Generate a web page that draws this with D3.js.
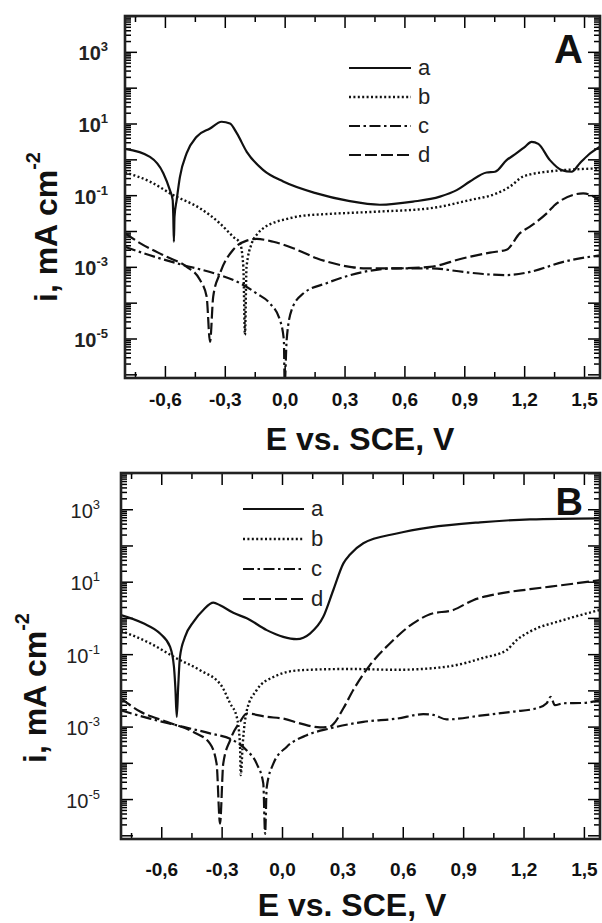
<!DOCTYPE html>
<html>
<head>
<meta charset="utf-8">
<script src="https://cdn.jsdelivr.net/npm/d3@7"></script>
<style>
  body { margin: 0; background: #fff; }
  svg { display: block; font-family: "Liberation Sans", Arial, Helvetica, sans-serif; }
</style>
</head>
<body>
<svg id="chart" width="602" height="923"></svg>
<script>
// curve names + x ticks
const seriesNames = ["a", "b", "c", "d"];
const xTickValues = [-0.6, -0.3, 0, 0.3, 0.6, 0.9, 1.2, 1.5];
const xTickLabels = ["-0,6", "-0,3", "0,0", "0,3", "0,6", "0,9", "1,2", "1,5"];
const xMinorValues = [-0.75, -0.45, -0.15, 0.15, 0.45, 0.75, 1.05, 1.35];
const yDecades = [1e-6, 1e-5, 1e-4, 1e-3, 1e-2, 1e-1, 1, 1e1, 1e2, 1e3, 1e4];
const yLabelExps = [-5, -3, -1, 1, 3];
const xDomain = [-0.8, 1.58];
const yDomain = [7.9e-7, 1e4];

// panel A, [E (V), i (mA cm-2)]
const A_a = [[-0.8,1.95],[-0.675,1.17],[-0.608,0.41],[-0.575,0.138],[-0.561,0.073],[-0.558,0.025],[-0.555,0.005],
  [-0.552,0.025],[-0.541,0.074],[-0.525,0.32],[-0.491,1.48],[-0.441,4.27],[-0.374,7.24],[-0.316,11.2],[-0.274,10.0],
  [-0.24,5.37],[-0.19,1.62],[-0.107,0.5],[-0.007,0.24],[0.16,0.112],[0.32,0.069],[0.477,0.054],[0.643,0.066],
  [0.778,0.091],[0.862,0.138],[0.928,0.24],[1.012,0.43],[1.054,0.45],[1.112,0.95],[1.162,1.48],[1.204,2.24],
  [1.237,3.09],[1.271,2.69],[1.329,0.95],[1.388,0.5],[1.438,0.45],[1.479,0.78],[1.521,1.32],[1.58,2.24]];
const A_b = [[-0.8,0.43],[-0.675,0.24],[-0.558,0.1],[-0.424,0.043],[-0.324,0.0162],[-0.258,0.0069],[-0.224,0.0046],
  [-0.207,0.001],[-0.199,1.26e-5],[-0.191,0.001],[-0.165,0.0045],[-0.135,0.0085],[-0.1,0.0128],[-0.05,0.0175],
  [0.0,0.021],[0.077,0.026],[0.227,0.03],[0.477,0.035],[0.728,0.043],[0.928,0.073],[1.062,0.112],[1.129,0.174],
  [1.195,0.33],[1.313,0.45],[1.58,0.56]];
const A_c = [[-0.8,3.6e-3],[-0.675,2.1e-3],[-0.508,1.12e-3],[-0.341,6.3e-4],[-0.224,3.5e-4],[-0.14,1.8e-4],
  [-0.074,9.5e-5],[-0.024,3.3e-5],[-0.004,9.1e-6],[0,5e-7],[0.01,9.1e-6],[0.035,6.3e-5],[0.093,1.8e-4],
  [0.21,3.5e-4],[0.394,7.2e-4],[0.561,9.1e-4],[0.728,9.1e-4],[0.895,7.2e-4],[0.995,6.3e-4],[1.112,5.9e-4],
  [1.229,7.2e-4],[1.396,1.38e-3],[1.58,2.1e-3]];
const A_d = [[-0.8,8.7e-3],[-0.725,4.6e-3],[-0.591,1.9e-3],[-0.491,1.0e-3],[-0.424,4.3e-4],[-0.391,1.48e-4],
  [-0.374,8.1e-6],[-0.358,1.48e-4],[-0.324,6.6e-4],[-0.258,3.0e-3],[-0.19,5.4e-3],[-0.14,6.0e-3],[-0.057,5.0e-3],
  [0.043,3.3e-3],[0.16,1.74e-3],[0.327,1.0e-3],[0.394,9.1e-4],[0.561,9.1e-4],[0.728,1.0e-3],[0.895,1.74e-3],
  [1.029,2.5e-3],[1.112,3.0e-3],[1.179,8.7e-3],[1.229,0.0132],[1.313,0.031],[1.363,0.059],[1.496,0.112],
  [1.563,0.081],[1.58,0.066]];

// panel B
const B_a = [[-0.8,1.2],[-0.689,0.71],[-0.606,0.37],[-0.556,0.158],[-0.537,0.045],[-0.53,0.012],[-0.523,1.86e-3],
  [-0.516,0.012],[-0.507,0.085],[-0.482,0.3],[-0.44,0.78],[-0.391,1.66],[-0.341,2.63],[-0.308,2.24],[-0.242,1.38],
  [-0.175,0.98],[-0.076,0.46],[0.006,0.3],[0.073,0.26],[0.139,0.37],[0.205,1.07],[0.255,5.9],[0.305,32],
  [0.338,56],[0.404,115],[0.57,214],[0.735,316],[0.984,436],[1.232,525],[1.58,562]];
const B_b = [[-0.8,0.44],[-0.656,0.2],[-0.523,0.076],[-0.407,0.036],[-0.3,0.0132],[-0.258,4.4e-3],[-0.225,1.86e-3],
  [-0.209,3.4e-4],[-0.205,4.6e-5],[-0.195,3.4e-4],[-0.175,2.8e-3],[-0.126,0.0102],[-0.043,0.0234],[0.089,0.036],
  [0.338,0.039],[0.57,0.037],[0.818,0.045],[1.0,0.079],[1.116,0.129],[1.166,0.245],[1.232,0.42],[1.397,0.87],
  [1.58,1.66]];
const B_c = [[-0.8,2.8e-3],[-0.656,1.66e-3],[-0.49,9.8e-4],[-0.358,6.5e-4],[-0.242,4.2e-4],[-0.175,2.2e-4],
  [-0.126,9.5e-5],[-0.093,2.7e-5],[-0.084,1.1e-6],[-0.076,2.1e-5],[-0.043,9.5e-5],[0.023,2.75e-4],[0.123,5.8e-4],
  [0.238,8.9e-4],[0.404,1.35e-3],[0.57,1.66e-3],[0.702,2.2e-3],[0.752,2.1e-3],[0.818,1.58e-3],[0.984,2.0e-3],
  [1.149,2.6e-3],[1.265,3.2e-3],[1.315,4.4e-3],[1.335,6.6e-3],[1.356,3.9e-3],[1.397,4.4e-3],[1.497,4.5e-3],
  [1.58,5.4e-3]];
const B_d = [[-0.8,6.0e-3],[-0.705,2.6e-3],[-0.573,1.35e-3],[-0.44,7.1e-4],[-0.358,3.4e-4],[-0.325,9.5e-5],
  [-0.308,2.1e-6],[-0.292,9.5e-5],[-0.258,4.2e-4],[-0.209,1.35e-3],[-0.175,2.3e-3],[-0.076,1.86e-3],
  [0.006,1.66e-3],[0.089,1.23e-3],[0.189,9.5e-4],[0.238,1.0e-3],[0.255,1.17e-3],[0.305,3.2e-3],[0.354,0.0102],
  [0.437,0.05],[0.537,0.2],[0.652,0.71],[0.735,1.26],[0.851,1.66],[0.95,3.09],[1.067,4.57],[1.232,6.2],
  [1.397,8.1],[1.58,11.0]];

const dashes = { a: null, b: "2,2.4", c: "11,3.5,2.5,3.5", d: "12,4" };

const svg = d3.select("#chart");

const panels = [
  { id: "A", curves: [A_a, A_b, A_c, A_d], left: 125, right: 600, top: 16, bottom: 378,
    tickBold: true, xPad: 15, yPad: 17, lx1: 349, lx2: 411, ly0: 68, ldy: 29,
    ylabX: 57, ylabY: 302, xlabX: 360, xlabY: 450, letterY: 63, letterSize: 40 },
  { id: "B", curves: [B_a, B_b, B_c, B_d], left: 121, right: 600, top: 473, bottom: 839,
    tickBold: false, xPad: 24, yPad: 21, lx1: 243, lx2: 304, ly0: 509, ldy: 30,
    ylabX: 46, ylabY: 763, xlabX: 352, xlabY: 916, letterY: 515, letterSize: 38 }
];

panels.forEach(drawPanel);

function drawPanel(p) {
  const x = d3.scaleLinear().domain(xDomain).range([p.left, p.right]);
  const y = d3.scaleLog().domain(yDomain).range([p.bottom, p.top]);
  const g = svg.append("g");

  // minor y ticks 2..9 per decade
  let yMinor = [];
  yDecades.forEach(dec => {
    for (let m = 2; m < 10; m++) {
      const v = m * dec;
      if (v > yDomain[0] && v < yDomain[1]) yMinor.push(v);
    }
  });

  const axes = [
    [d3.axisBottom(x).tickValues(xMinorValues).tickSize(-6), `translate(0,${p.bottom})`],
    [d3.axisTop(x).tickValues(xMinorValues).tickSize(-6), `translate(0,${p.top})`],
    [d3.axisTop(x).tickValues(xTickValues).tickSize(-12), `translate(0,${p.top})`],
    [d3.axisLeft(y).tickValues(yMinor).tickSize(-6), `translate(${p.left},0)`],
    [d3.axisRight(y).tickValues(yMinor).tickSize(-6), `translate(${p.right},0)`],
    [d3.axisRight(y).tickValues(yDecades).tickSize(-12), `translate(${p.right},0)`]
  ];
  axes.forEach(([ax, tr]) => {
    const a = g.append("g").attr("transform", tr).call(ax.tickFormat(""));
    a.select(".domain").remove();
    a.selectAll("line").attr("stroke-width", 1.5);
  });

  // labelled x axis
  const xAx = g.append("g").attr("transform", `translate(0,${p.bottom})`)
    .call(d3.axisBottom(x).tickValues(xTickValues).tickSize(-12).tickPadding(p.xPad)
      .tickFormat((d, i) => xTickLabels[i]));
  xAx.select(".domain").remove();
  xAx.selectAll("line").attr("stroke-width", 1.5);
  xAx.selectAll("text").attr("font-size", 19).attr("font-weight", "bold")
    .attr("font-family", "'Liberation Sans', Arial, sans-serif").attr("fill", "#111");

  // labelled y axis
  const yAx = g.append("g").attr("transform", `translate(${p.left},0)`)
    .call(d3.axisLeft(y).tickValues(yDecades).tickSize(-12).tickPadding(p.yPad).tickFormat(""));
  yAx.select(".domain").remove();
  yAx.selectAll("line").attr("stroke-width", 1.5);
  yAx.selectAll(".tick").each(function(d) {
    const e = Math.round(Math.log10(d));
    const t = d3.select(this).select("text");
    if (!yLabelExps.includes(e)) return;
    t.text(null).attr("font-size", 20).attr("fill", "#222")
      .attr("font-family", "'Liberation Sans', Arial, sans-serif")
      .attr("font-weight", p.tickBold ? "bold" : "normal").attr("dy", "0.4em");
    t.append("tspan").text("10");
    t.append("tspan").attr("font-size", 13).attr("dy", -9).text(String(e));
  });

  // curves
  const clipId = "clip" + p.id;
  svg.append("clipPath").attr("id", clipId).append("rect")
    .attr("x", p.left).attr("y", p.top).attr("width", p.right - p.left).attr("height", p.bottom - p.top);

  const line = d3.line().x(d => x(d[0])).y(d => y(d[1])).curve(d3.curveMonotoneX);
  const cg = g.append("g").attr("clip-path", `url(#${clipId})`);
  p.curves.forEach((data, i) => {
    const name = seriesNames[i];
    cg.append("path").datum(data).attr("d", line)
      .attr("fill", "none").attr("stroke", "#111")
      .attr("stroke-width", name === "b" ? 2.4 : 2.2)
      .attr("stroke-dasharray", dashes[name]);
  });

  // frame
  g.append("rect").attr("x", p.left).attr("y", p.top)
    .attr("width", p.right - p.left).attr("height", p.bottom - p.top)
    .attr("fill", "none").attr("stroke", "#222").attr("stroke-width", 2.6);

  // legend
  const leg = g.append("g");
  seriesNames.forEach((name, i) => {
    const ly = p.ly0 + i * p.ldy;
    leg.append("line").attr("x1", p.lx1).attr("x2", p.lx2).attr("y1", ly).attr("y2", ly)
      .attr("stroke", "#111").attr("stroke-width", name === "b" ? 2.4 : 2.2)
      .attr("stroke-dasharray", dashes[name]);
    leg.append("text").attr("x", p.lx2 + 7).attr("y", ly + 7)
      .attr("font-size", 22).attr("fill", "#222").text(name);
  });

  // panel letter
  g.append("text").attr("x", 583).attr("y", p.letterY).attr("text-anchor", "end")
    .attr("font-size", p.letterSize).attr("font-weight", "bold").attr("fill", "#111").text(p.id);

  // axis titles
  const yt = g.append("text")
    .attr("transform", `translate(${p.ylabX},${p.ylabY}) rotate(-90)`)
    .attr("font-size", 32).attr("font-weight", "bold").attr("fill", "#111");
  yt.append("tspan").text("i, mA cm");
  yt.append("tspan").attr("font-size", 20).attr("dy", -17).text("-2");

  g.append("text").attr("x", p.xlabX).attr("y", p.xlabY).attr("text-anchor", "middle")
    .attr("font-size", 32).attr("font-weight", "bold").attr("fill", "#111").text("E vs. SCE, V");
}
</script>
</body>
</html>
